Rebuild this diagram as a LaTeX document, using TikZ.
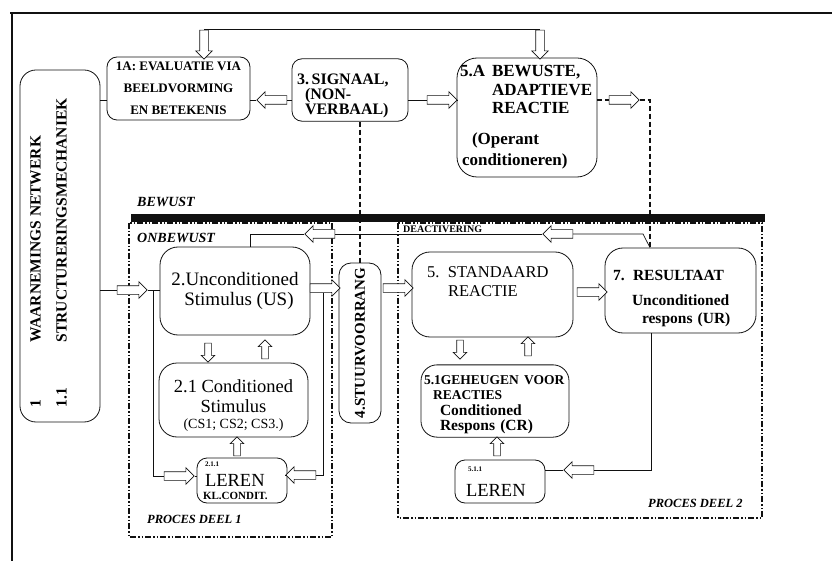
\documentclass[tikz,border=0pt]{standalone}
\usepackage{fontspec}
\setmainfont{Liberation Serif}
\usetikzlibrary{shapes.arrows}
\definecolor{cInk}{HTML}{111111}
\hyphenpenalty=10000
\exhyphenpenalty=10000
\newcommand{\fsz}[2]{\fontsize{#1}{#2}\selectfont}
\newcommand{\padtop}[1]{\mbox{}\\[#1]}
\tikzset{
  box/.style ={draw=cInk,line width=0.8pt,rounded corners=14pt,inner sep=3pt,align=left},
  harr/.style={single arrow,draw=cInk,line width=0.6pt,fill=white,inner xsep=0pt,inner ysep=4pt,
               minimum height=30pt,single arrow head extend=4pt},
  sarr/.style={harr,minimum height=19pt,inner ysep=3pt,single arrow head extend=3.5pt},
  link/.style={draw=cInk,line width=0.7pt},
  dlink/.style={draw=cInk,line width=1.3pt,dash pattern=on 5pt off 3pt},
  zone/.style={draw=cInk,line width=1.3pt,dash pattern=on 6pt off 2pt on 1.5pt off 2pt on 1.5pt off 2pt},
  zlbl/.style={anchor=base west,inner sep=0pt,font=\fsz{14}{14}\bfseries\itshape},
}

\begin{document}
\begin{tikzpicture}[x=1pt,y=-1pt]
\useasboundingbox (0,0) rectangle (832,561);
% kader, balk en zones
\draw[cInk,line width=1.5pt] (10,13) -- (832,13);
\draw[cInk,line width=1.5pt] (12,13) -- (12,561);
\fill[cInk] (131,214) rectangle (765,222);
\draw[zone] (129,223) rectangle (332,537);
\draw[zone] (398,223) rectangle (762,518);
\node[zlbl] (lbew) at (137,207) {BEWUST};
\node[zlbl] (lonb) at (137,243) {ONBEWUST};
\node[zlbl,font=\fsz{10}{10}\bfseries] (ldeact) at (403,233) {DEACTIVERING};
\node[zlbl,font=\fsz{12.5}{12.5}\bfseries\itshape] (lpd1) at (147,523) {PROCES DEEL 1};
\node[zlbl,font=\fsz{12.5}{12.5}\bfseries\itshape] (lpd2) at (648,507) {PROCES DEEL 2};

% blokken
\node[box,rounded corners=16pt,minimum width=80pt,minimum height=352pt,font=\fsz{15.5}{18}\bfseries] (net) at (60,246)
  {\rotatebox{90}{\begin{tabular}{@{}l@{\hspace{46pt}}l@{}}1 & WAARNEMINGS NETWERK\\[8pt]
   1.1 & STRUCTURERINGSMECHANIEK\end{tabular}\hspace*{14pt}}\hspace*{20pt}};
\node[box,rounded corners=10pt,minimum width=143pt,minimum height=63pt,align=center,
      font=\fsz{13}{22}\bfseries] (eval) at (178.5,88.5) {1A: EVALUATIE VIA\\BEELDVORMING\\EN BETEKENIS};
\node[box,rounded corners=10pt,text width=110pt,minimum height=56pt,font=\fsz{16}{15}\bfseries] (sig) at (350,90)
  {\padtop{8pt}\hspace*{2pt}3.\,SIGNAAL,\\\hspace*{10pt}(NON-\\\hspace*{10pt}VERBAAL)};
\node[box,rounded corners=20pt,text width=134pt,minimum height=119pt,font=\fsz{17}{18.5}\bfseries] (bew) at (527,117.5)
  {\makebox[32pt][l]{5.A}BEWUSTE,\\\hspace*{32pt}ADAPTIEVE\\\hspace*{32pt}REACTIE\\[12pt]
   \hspace*{12pt}(Operant\\[3pt]\hspace*{2pt}conditioneren)};
\node[box,rounded corners=18pt,minimum width=150pt,minimum height=88pt,align=center,
      font=\fsz{19}{20}] (us) at (235,291) {2.Unconditioned\\\hspace*{8pt}Stimulus (US)};
\node[box,rounded corners=18pt,minimum width=149pt,minimum height=74pt,align=center,
      font=\fsz{18.5}{20}] (cs) at (233.5,400)
  {\padtop{3pt}2.1 Conditioned\\Stimulus\\[-4pt]{\fsz{14}{14}(CS1; CS2; CS3.)}};
\node[box,rounded corners=10pt,text width=84pt,minimum height=45pt,font=\fsz{18.5}{20}] (leren1) at (242,480.5)
  {\hspace*{5pt}{\fsz{7}{7}\bfseries 2.1.1}\\\hspace*{5pt}LEREN\\[-7pt]\hspace*{3pt}{\fsz{11}{11}\bfseries KL.CONDIT.}};
\node[box,rounded corners=12pt,minimum width=42pt,minimum height=160pt,font=\fsz{15}{15}\bfseries] (stuur) at (360,343)
  {\rotatebox{90}{4.STUURVOORRANG}};
\node[box,rounded corners=18pt,text width=155pt,minimum height=85pt,font=\fsz{16.5}{19}] (std) at (492.5,294.5)
  {\hspace*{12pt}\makebox[21pt][l]{5.}STANDAARD\\\hspace*{33pt}REACTIE\\[6pt]\mbox{}};
\node[box,rounded corners=18pt,text width=145pt,minimum height=85pt,font=\fsz{15.5}{18}\bfseries] (res) at (680.5,290.5)
  {\padtop{8pt}\hspace*{5pt}\makebox[20pt][l]{7.}RESULTAAT\\[7pt]\hspace*{24pt}Unconditioned\\\hspace*{34pt}respons (UR)};
\node[box,rounded corners=16pt,text width=142pt,minimum height=72pt,font=\fsz{15.5}{15.5}\bfseries] (geh) at (495,401)
  {\padtop{1pt}\mbox{\fsz{13.5}{13.5}5.1GEHEUGEN VOOR}\\\hspace*{9pt}{\fsz{13.5}{13.5}REACTIES}\\
   \hspace*{16pt}Conditioned\\\hspace*{16pt}Respons (CR)};
\node[box,rounded corners=10pt,text width=84pt,minimum height=43pt,font=\fsz{18.5}{25}] (leren2) at (500,481.5)
  {\hspace*{10pt}{\fsz{7}{7}\bfseries 5.1.1}\\\hspace*{8pt}LEREN};

% holle pijlen
\node[harr,rotate=-90,minimum height=29pt] (atop1) at (204,42.5) {};
\node[harr,rotate=-90,minimum height=29pt] (atop2) at (540,42.5) {};
\node[harr,rotate=180] (a31) at (274,100) {};
\node[harr] (a35) at (440,100) {};
\node[harr] (a57) at (622,100) {};
\node[harr] (ain) at (130,290) {};
\node[harr] (al1) at (177,476) {};
\node[harr,rotate=180] (al2) at (303,475) {};
\node[harr] (a24) at (323,288) {};
\node[harr] (a45) at (396,288) {};
\node[harr,rotate=180] (ad1) at (560,234) {};
\node[harr,rotate=180] (ad2) at (322,234) {};
\node[harr] (a75) at (590,292) {};
\node[harr,rotate=180] (al3) at (581,470) {};
\node[sarr,rotate=-90] (ausd) at (208,351) {};
\node[sarr,rotate=90] (ausu) at (265,351) {};
\node[sarr,rotate=90] (alc) at (237,448) {};
\node[sarr,rotate=-90] (asd) at (460,348) {};
\node[sarr,rotate=90] (asu) at (528,348) {};
\node[sarr,rotate=90] (alg) at (497,448) {};

\coordinate (jl) at (153,290);
\coordinate (dk) at (650,100);
\coordinate (dc) at (643,234);
\coordinate (du) at (250,234);
\coordinate (dr) at (651,470);

% verbindingen
\draw[link] (atop1.tail) -- (atop2.tail);
\draw[link] (a31 -| net.east) -- (a31 -| eval.west);
\draw[link] (ain -| net.east) -- (ain.tail);
\draw[link] (ain.tip) -- (ain -| us.west);
\draw[link] (jl) -- (jl |- al1) -- (al1.tail);
\draw[link] (al1.tip) -- (al1 -| leren1.west);
\draw[link] (a31 -| sig.west) -- (a31.tail);
\draw[link] (a31.tip) -- (a31 -| eval.east);
\draw[link] (a35 -| sig.east) -- (a35.tail);
\draw[link] (a35.tip) -- (a35 -| bew.west);
\draw[dlink] (stuur.north |- sig.south) -- (stuur.north);
\draw[dlink] (a57 -| bew.east) -- (a57.tail);
\draw[dlink] (a57.tip) -- (dk) -- (dk |- res.north);
\draw[link] (a24.south) -- (a24.south |- al2) -- (al2.tail);
\draw[link] (al2.tip) -- (al2 -| leren1.east);
\draw[link] (res.north -| dk) -- (dc) -- (ad1.tail);
\draw[link] (ad1.tip) -- (ad2.tail);
\draw[link] (ad2.tip) -- (du) -- (du |- us.north);
\draw[link] (dr |- res.south) -- (dr) -- (al3.tail);
\draw[link] (al3.tip) -- (al3 -| leren2.east);
\end{tikzpicture}
\end{document}
